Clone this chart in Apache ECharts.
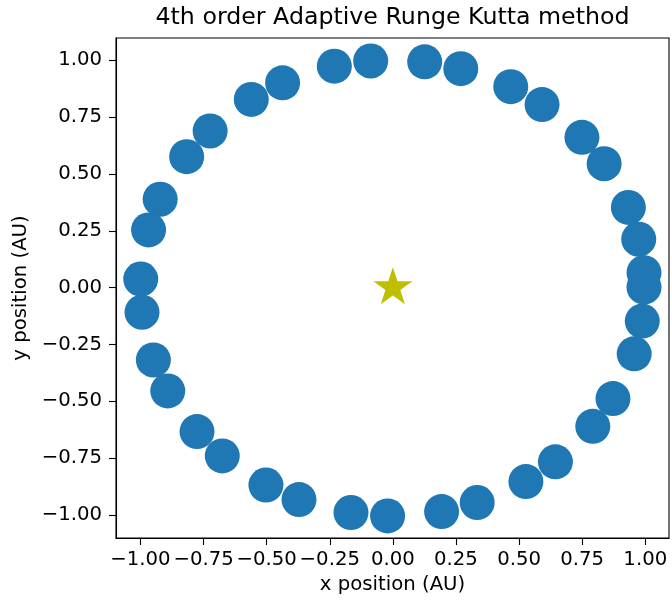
<!DOCTYPE html>
<html>
<head>
<meta charset="utf-8">
<title>4th order Adaptive Runge Kutta method</title>
<script src="https://cdn.jsdelivr.net/npm/echarts@6/dist/echarts.min.js"></script>
<style>
  html, body { margin: 0; padding: 0; background: #fff; }
  #chart { width: 672px; height: 602px; }
</style>
</head>
<body>
<div id="chart"></div>
<script>
// orbit positions (AU)
const orbitX = [
  0.995, 0.995, 0.974, 0.933, 0.837, 0.749, 0.591, 0.467, 0.269, 0.126,
  -0.088, -0.232, -0.437, -0.561, -0.724, -0.817, -0.922, -0.968, -0.999, -0.994,
  -0.949, -0.892, -0.776, -0.676, -0.503, -0.372, -0.166, -0.021, 0.193, 0.334,
  0.527, 0.644, 0.792, 0.872, 0.956, 0.988
];
const orbitY = [
  0.002, 0.066, 0.213, 0.353, 0.545, 0.661, 0.805, 0.884, 0.963, 0.993,
  0.997, 0.974, 0.901, 0.828, 0.689, 0.576, 0.389, 0.254, 0.038, -0.108,
  -0.318, -0.454, -0.633, -0.740, -0.868, -0.932, -0.989, -1.004, -0.985, -0.945,
  -0.853, -0.766, -0.610, -0.488, -0.291, -0.147
];
// the sun
const sunX = [0];
const sunY = [0];

const xTicks = [-1.0, -0.75, -0.5, -0.25, 0, 0.25, 0.5, 0.75, 1.0];
const yTicks = [-1.0, -0.75, -0.5, -0.25, 0, 0.25, 0.5, 0.75, 1.0];

const FONT = "DejaVu Sans";
const fmt = (v) => (v < 0 ? "\u2212" : "") + Math.abs(v).toFixed(2);

const starPath = "path://M0,-100L22.45,-30.9L95.11,-30.9L36.33,11.8L58.78,80.9L0,38.2L-58.78,80.9L-36.33,11.8L-95.11,-30.9L-22.45,-30.9Z";

const chart = echarts.init(document.getElementById("chart"), null, { renderer: "canvas" });

const axisCommon = {
  type: "value",
  axisLine: { show: true, onZero: false, lineStyle: { color: "#000", width: 1.1 } },
  axisTick: { show: true, inside: false, length: 7, lineStyle: { color: "#000", width: 1.1 } },
  axisLabel: { color: "#000", fontFamily: FONT, fontSize: 19.7, margin: 14, formatter: fmt },
  splitLine: { show: false },
  nameTextStyle: { color: "#000", fontFamily: FONT, fontSize: 19.7 },
  nameLocation: "middle"
};

const option = {
  backgroundColor: "#fff",
  animation: false,
  title: {
    text: "4th order Adaptive Runge Kutta method",
    left: 392.5,
    top: 6,
    textAlign: "center",
    padding: 0,
    textStyle: { color: "#000", fontFamily: FONT, fontSize: 23.7, fontWeight: "normal" }
  },
  grid: {
    left: 116, right: 3, top: 38, bottom: 64,
    show: true, borderColor: "#000", borderWidth: 1.1, backgroundColor: "transparent"
  },
  xAxis: Object.assign({}, axisCommon, {
    min: -1.097, max: 1.094,
    name: "x position (AU)",
    nameGap: 37,
    axisTick: Object.assign({}, axisCommon.axisTick, { customValues: xTicks }),
    axisLabel: Object.assign({}, axisCommon.axisLabel, { customValues: xTicks, margin: 12 })
  }),
  yAxis: Object.assign({}, axisCommon, {
    min: -1.101, max: 1.098,
    name: "y position (AU)",
    nameGap: 82,
    axisTick: Object.assign({}, axisCommon.axisTick, { customValues: yTicks }),
    axisLabel: Object.assign({}, axisCommon.axisLabel, { customValues: yTicks })
  }),
  series: [
    {
      type: "scatter",
      symbol: "circle",
      symbolSize: 35,
      itemStyle: { color: "#1f77b4", opacity: 1 },
      data: orbitX.map((x, i) => [x, orbitY[i]])
    },
    {
      type: "scatter",
      symbol: starPath,
      symbolSize: [39, 37],
      symbolOffset: [0, -2],
      itemStyle: { color: "#bfbf00", opacity: 1 },
      data: sunX.map((x, i) => [x, sunY[i]])
    }
  ]
};

chart.setOption(option);
</script>
</body>
</html>
